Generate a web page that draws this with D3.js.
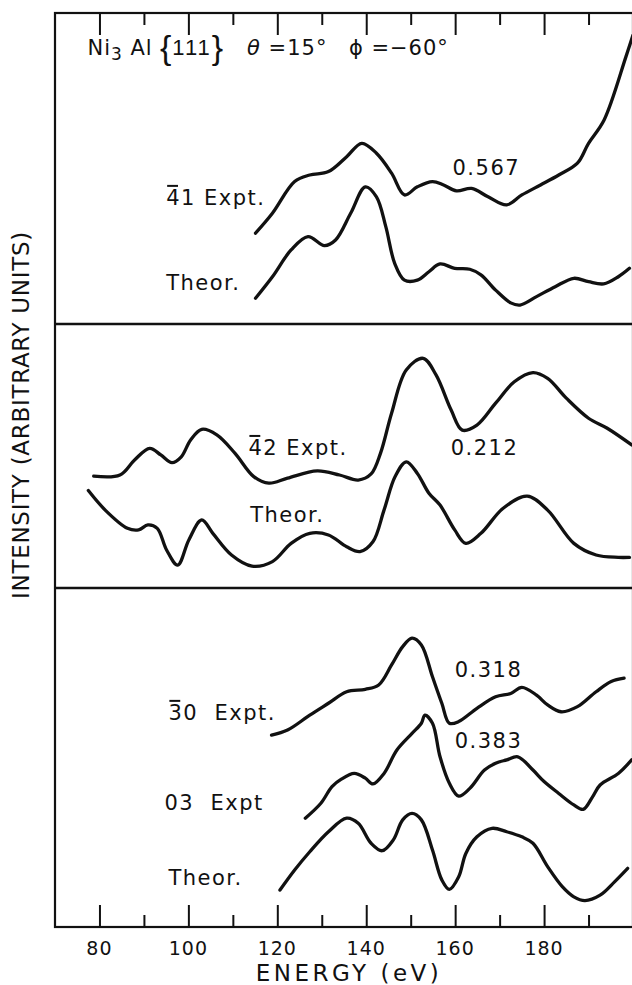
<!DOCTYPE html>
<html>
<head>
<meta charset="utf-8">
<script src="https://cdn.jsdelivr.net/npm/d3@7/dist/d3.min.js"></script>
<style>
  body { margin: 0; background: #fff; }
  svg { display: block; }
  text { font-family: "DejaVu Sans", "Liberation Sans", sans-serif; fill: #111; }
</style>
</head>
<body>
<div id="chart"></div>
<script>
// ---- data: energy (eV) and intensity (arbitrary units, 0-100 within each panel)

// panel 1 : 41 beam
var e41Expt = [115.1, 118.9, 123.9, 127.3, 131.5, 135.6, 139.0, 142.3, 145.7, 148.6, 151.5, 154.9, 157.4, 160.3, 163.7, 167.4, 171.6, 175.0, 179.2, 183.3, 187.5, 190.0, 193.5, 198.4, 200.0];
var i41Expt = [29.2, 35.6, 45.8, 47.9, 49.0, 53.8, 58.1, 54.9, 48.5, 41.5, 44.1, 45.8, 44.7, 42.8, 43.6, 40.9, 38.3, 41.5, 44.7, 47.9, 51.7, 58.1, 65.6, 85.9, 92.9];
var e41Theor = [115.1, 118.9, 123.1, 126.9, 130.6, 133.1, 136.5, 139.8, 142.3, 144.4, 146.4, 148.6, 151.5, 154.1, 156.6, 159.9, 163.3, 165.8, 169.1, 172.5, 174.6, 178.3, 182.5, 186.7, 190.0, 193.4, 196.7, 199.2];
var i41Theor = [8.3, 15.2, 23.8, 28.1, 25.2, 27.0, 35.6, 44.1, 40.9, 31.3, 19.5, 14.1, 14.1, 16.8, 19.3, 17.9, 17.6, 15.8, 10.9, 6.8, 6.1, 8.8, 12.0, 14.7, 13.6, 12.9, 15.2, 17.9];

// panel 2 : 42 beam
var e42Expt = [78.7, 84.6, 87.9, 91.3, 93.8, 96.3, 98.4, 100.5, 103.0, 106.4, 110.5, 114.7, 118.1, 122.3, 129.0, 134.0, 138.2, 141.1, 143.2, 145.7, 149.0, 152.8, 155.7, 159.1, 161.6, 164.9, 169.1, 173.3, 177.5, 180.8, 185.0, 190.0, 194.2, 199.7];
var i42Expt = [42.4, 42.8, 48.5, 52.9, 50.4, 47.5, 49.7, 56.1, 60.1, 58.0, 51.0, 42.2, 39.7, 41.6, 44.4, 42.8, 40.9, 43.2, 51.0, 66.2, 82.6, 87.0, 80.7, 67.4, 59.8, 61.7, 70.0, 78.1, 81.6, 79.4, 71.9, 64.3, 60.5, 54.2];
var e42Theor = [77.5, 81.3, 86.3, 88.8, 90.9, 93.0, 95.1, 97.6, 100.1, 103.0, 105.5, 109.7, 114.3, 118.9, 123.1, 127.3, 131.5, 135.6, 138.6, 141.5, 144.0, 146.5, 149.0, 151.5, 154.1, 156.6, 159.9, 162.4, 165.8, 170.8, 176.2, 180.8, 186.7, 191.7, 196.7, 199.2];
var i42Theor = [36.9, 29.5, 22.6, 22.0, 23.9, 22.6, 14.4, 8.7, 18.2, 25.8, 20.7, 12.5, 8.3, 10.0, 16.9, 20.7, 20.1, 15.6, 13.8, 17.5, 29.5, 42.2, 47.8, 43.4, 35.9, 31.4, 22.0, 16.9, 20.7, 30.2, 34.8, 29.5, 16.9, 12.5, 11.6, 11.6];

// panel 3 : 30 and 03 beams
var e30Expt = [118.7, 122.3, 127.3, 131.5, 135.6, 139.8, 142.8, 145.7, 148.2, 150.3, 152.4, 154.9, 157.0, 158.7, 160.8, 164.9, 169.1, 172.5, 175.0, 178.3, 180.8, 183.8, 187.5, 191.7, 195.1, 198.0];
var i30Expt = [56.6, 58.1, 62.5, 66.0, 69.4, 70.1, 71.4, 77.3, 82.7, 85.2, 83.2, 73.8, 66.0, 60.1, 60.6, 64.5, 67.9, 68.9, 70.7, 68.4, 65.5, 63.5, 65.0, 69.4, 72.4, 73.4];
var e03Expt = [126.3, 129.8, 132.3, 134.4, 137.3, 139.8, 141.5, 144.0, 146.9, 150.3, 152.4, 153.2, 154.9, 156.6, 158.7, 160.8, 163.3, 166.6, 169.1, 171.6, 174.1, 177.5, 180.0, 183.3, 186.7, 188.8, 190.9, 192.6, 196.7, 199.7];
var i03Expt = [32.1, 36.5, 41.4, 43.6, 45.3, 43.9, 42.2, 45.3, 52.2, 57.1, 60.1, 62.5, 60.1, 50.2, 42.4, 38.6, 40.9, 46.3, 48.3, 49.3, 50.2, 46.3, 42.9, 39.4, 36.0, 34.7, 38.4, 41.9, 45.3, 49.3];
var e03Theor = [120.6, 123.9, 127.3, 131.5, 135.6, 138.2, 141.1, 143.6, 146.1, 148.2, 150.3, 152.4, 154.9, 157.0, 158.7, 160.8, 162.4, 164.9, 168.3, 171.6, 175.0, 177.5, 180.8, 184.1, 186.7, 189.2, 192.6, 195.9, 198.8];
var i03Theor = [10.9, 16.8, 22.2, 28.1, 32.1, 30.6, 24.7, 22.5, 25.7, 31.6, 33.5, 31.6, 22.7, 13.9, 11.1, 14.8, 21.7, 26.6, 29.1, 28.1, 26.6, 24.7, 17.8, 11.9, 8.9, 7.8, 9.4, 13.4, 17.3];

// axis
var majorTicks = [80, 100, 120, 140, 160, 180, 200];
var minorTicks = [90, 110, 130, 150, 170, 190];
var tickLabels = ["80", "100", "120", "140", "160", "180", ""];

// curve labels: [panel, energy, intensity, barred digit, rest]
var labels = [
  [0, 95.0, 38.3, "4", "1 Expt."],
  [0, 159.4, 47.9, "", "0.567"],
  [0, 95.0, 10.9, "", "Theor."],
  [1, 113.5, 50.4, "4", "2 Expt."],
  [1, 159.0, 50.4, "", "0.212"],
  [1, 113.9, 25.1, "", "Theor."],
  [2, 95.5, 61.1, "3", "0  Expt."],
  [2, 159.9, 73.8, "", "0.318"],
  [2, 159.9, 52.7, "", "0.383"],
  [2, 94.6, 34.5, "", "03  Expt"],
  [2, 95.5, 12.4, "", "Theor."]
];

// heading pieces in panel 1: [energy, text]
var headPieces = [[77.3, "Ni"], [93.6, "{"], [113.2, "\u03b8"], [136.1, "\u03d5"]];

// ---- layout
var W = 632, H = 985;
var frameLeft = 55, frameRight = 633, frameTop = 13, frameBottom = 927;
var panelEdges = [13, 324, 588, 927];

var svg = d3.select("#chart").append("svg")
    .attr("width", W)
    .attr("height", H);

svg.append("rect").attr("width", W).attr("height", H).attr("fill", "#fff");

var x = d3.scaleLinear().domain([70, 200]).range([frameLeft, frameRight]);

var yPanel = [0, 1, 2].map(function (i) {
  return d3.scaleLinear().domain([0, 100]).range([panelEdges[i + 1], panelEdges[i]]);
});

// frame
svg.append("rect")
    .attr("x", frameLeft).attr("y", frameTop)
    .attr("width", frameRight - frameLeft).attr("height", frameBottom - frameTop)
    .attr("fill", "none").attr("stroke", "#111").attr("stroke-width", 2.2);

// panel dividers
svg.selectAll(".divider")
    .data(panelEdges.slice(1, 3))
    .enter().append("line")
    .attr("x1", frameLeft).attr("x2", frameRight)
    .attr("y1", function (d) { return d; }).attr("y2", function (d) { return d; })
    .attr("stroke", "#111").attr("stroke-width", 2.6);

// ticks, top and bottom
var bottomAxis = d3.axisTop(x).tickValues(majorTicks).tickSize(22).tickFormat("");
var bottomMinor = d3.axisTop(x).tickValues(minorTicks).tickSize(12).tickFormat("");
var topAxis = d3.axisBottom(x).tickValues(majorTicks).tickSize(22).tickFormat("");
var topMinor = d3.axisBottom(x).tickValues(minorTicks).tickSize(12).tickFormat("");

[[bottomAxis, frameBottom], [bottomMinor, frameBottom], [topAxis, frameTop], [topMinor, frameTop]].forEach(function (a) {
  var g = svg.append("g").attr("transform", "translate(0," + a[1] + ")").call(a[0]);
  g.select(".domain").remove();
  g.selectAll("line").attr("stroke", "#111").attr("stroke-width", 2);
});

// tick labels
svg.append("g").selectAll("text")
    .data(majorTicks)
    .enter().append("text")
    .attr("x", function (d) { return x(d); })
    .attr("y", 955)
    .attr("text-anchor", "middle")
    .style("font-size", "19px")
    .style("letter-spacing", "1px")
    .text(function (d, i) { return tickLabels[i]; });

svg.append("text")
    .attr("x", 349).attr("y", 981)
    .attr("text-anchor", "middle")
    .style("font-size", "23px")
    .style("letter-spacing", "3.5px")
    .text("ENERGY (eV)");

svg.append("text")
    .attr("transform", "translate(29,415) rotate(-90)")
    .attr("text-anchor", "middle")
    .style("font-size", "23px")
    .style("letter-spacing", "0.7px")
    .text("INTENSITY (ARBITRARY UNITS)");

// curves
var curves = [
  [0, e41Expt, i41Expt], [0, e41Theor, i41Theor],
  [1, e42Expt, i42Expt], [1, e42Theor, i42Theor],
  [2, e30Expt, i30Expt], [2, e03Expt, i03Expt], [2, e03Theor, i03Theor]
];

curves.forEach(function (c) {
  var ys = yPanel[c[0]];
  var pts = c[1].map(function (e, i) { return [e, c[2][i]]; });
  var line = d3.line()
      .x(function (d) { return x(d[0]); })
      .y(function (d) { return ys(d[1]); })
      .curve(d3.curveCatmullRom.alpha(0.5));
  svg.append("path")
      .datum(pts)
      .attr("d", line)
      .attr("fill", "none")
      .attr("stroke", "#111")
      .attr("stroke-width", 3.3)
      .attr("stroke-linejoin", "round")
      .attr("stroke-linecap", "round");
});

// curve labels, with a hand drawn bar over the first digit of beam names
labels.forEach(function (l) {
  var by = yPanel[l[0]](l[2]);
  var t = svg.append("text")
      .attr("x", x(l[1]))
      .attr("y", by)
      .style("font-size", "21px")
      .style("letter-spacing", "1.5px")
      .attr("xml:space", "preserve")
      .text(l[3] + l[4]);
  if (l[3]) {
    var box = t.node().getExtentOfChar(0);
    svg.append("line")
        .attr("x1", box.x + 1).attr("x2", box.x + box.width - 3)
        .attr("y1", by - 19).attr("y2", by - 19)
        .attr("stroke", "#111").attr("stroke-width", 2);
  }
});

// heading in panel 1
var headY = yPanel[0](86.5);
var head = svg.append("text")
    .attr("y", headY)
    .style("font-size", "21px")
    .style("letter-spacing", "1px")
    .attr("xml:space", "preserve");
head.append("tspan").attr("x", x(headPieces[0][0])).text(headPieces[0][1]);
head.append("tspan").attr("dy", 5).style("font-size", "17px").text("3");
head.append("tspan").attr("dy", -5).text(" Al");
head.append("tspan").attr("x", x(headPieces[1][0])).attr("dy", 4)
    .style("font-family", "'Liberation Sans', sans-serif")
    .style("font-size", "34px").text(headPieces[1][1]);
head.append("tspan").attr("dy", -4)
    .style("font-family", "'Liberation Sans', sans-serif")
    .style("font-size", "22px")
    .style("letter-spacing", "2px").text("111");
head.append("tspan").attr("dy", 4)
    .style("font-family", "'Liberation Sans', sans-serif")
    .style("font-size", "34px").text("}");
head.append("tspan").attr("x", x(headPieces[2][0])).attr("dy", -4)
    .style("font-style", "italic").text(headPieces[2][1]);
head.append("tspan").text(" =15\u00b0");
head.append("tspan").attr("x", x(headPieces[3][0])).text(headPieces[3][1]);
head.append("tspan").text(" =\u221260\u00b0");
</script>
</body>
</html>
